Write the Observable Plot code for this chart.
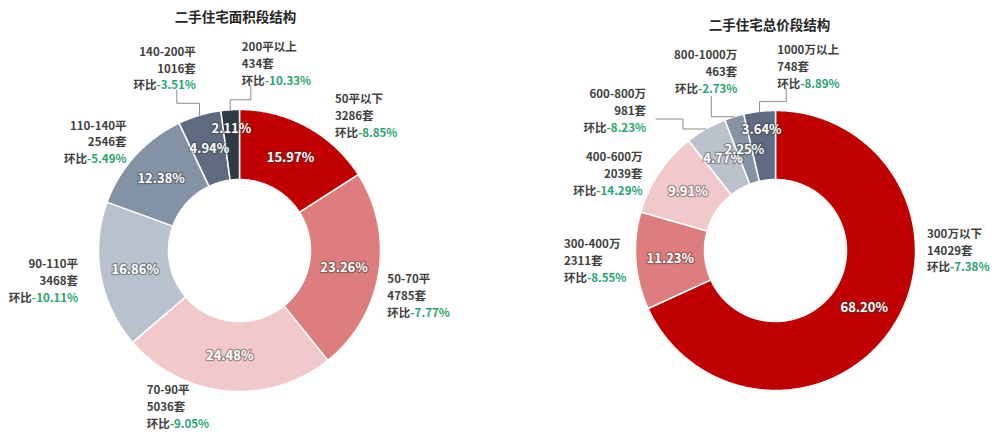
<!DOCTYPE html>
<html>
<head>
<meta charset="utf-8">
<script src="https://cdn.jsdelivr.net/npm/d3@7"></script>
<script src="https://cdn.jsdelivr.net/npm/@observablehq/plot@0.6"></script>
<style>
  html, body { margin: 0; padding: 0; background: #fff; }
  #chart svg { display: block; }
</style>
</head>
<body>
<div id="chart"></div>
<script>
// ---------------- DATA ----------------
const areaTitle = "二手住宅面积段结构";
const areaCategories = ["50平以下", "50-70平", "70-90平", "90-110平", "110-140平", "140-200平", "200平以上"];
const areaCounts = [3286, 4785, 5036, 3468, 2546, 1016, 434];
const areaShares = [15.97, 23.26, 24.48, 16.86, 12.38, 4.94, 2.11];
const areaChanges = [-8.85, -7.77, -9.05, -10.11, -5.49, -3.51, -10.33];

const priceTitle = "二手住宅总价段结构";
const priceCategories = ["300万以下", "300-400万", "400-600万", "600-800万", "800-1000万", "1000万以上"];
const priceCounts = [14029, 2311, 2039, 981, 463, 748];
const priceShares = [68.20, 11.23, 9.91, 4.77, 2.25, 3.64];
const priceChanges = [-7.38, -8.55, -14.29, -8.23, -2.73, -8.89];

// ---------------- STYLE / LAYOUT ----------------
const W = 1000, H = 441;
const areaPalette = ["#C00000", "#DE7D7D", "#F2C9CA", "#B9C1CC", "#8492A6", "#5E6B80", "#2F3B48"];
const pricePalette = ["#C00000", "#DE7D7D", "#F2C9CA", "#BAC1CB", "#8693A5", "#5E6B80"];
const textColor = "#404040";
const greenColor = "#27A46E";
const leaderColor = "#8C8C8C";
const FONT = "'Noto Sans CJK SC', 'Noto Sans', sans-serif";

// label nudges relative to the slice's mid-angle anchor (style only)
const areaLabelLayout = [
  {anchor: "start", dx: 18, dy: 5},
  {anchor: "start", dx: -11, dy: 18},
  {anchor: "start", dx: -78, dy: -5},
  {anchor: "end", dx: -3, dy: 0},
  {anchor: "end", dx: 6, dy: -1},
  {anchor: "end", dx: 2, dy: -29, leader: "upLeft"},
  {anchor: "start", dx: 13, dy: -27, leader: "upRight"}
];
const priceLabelLayout = [
  {anchor: "start", dx: 17, dy: -88},
  {anchor: "start", dx: -52, dy: -3},
  {anchor: "end", dx: 0, dy: 11},
  {anchor: "end", dx: -50, dy: -2, leader: "leftStep"},
  {anchor: "end", dx: 9, dy: -27, leader: "leftUp"},
  {anchor: "start", dx: 20, dy: -26, leader: "upRight"}
];

const charts = [
  {title: areaTitle, titleDx: -4, titleY: 17, cx: 239, cy: 250, R: 141, r: 71,
   categories: areaCategories, counts: areaCounts, shares: areaShares, changes: areaChanges,
   palette: areaPalette, layout: areaLabelLayout},
  {title: priceTitle, titleDx: -6, titleY: 25, cx: 775, cy: 250, R: 140, r: 71,
   categories: priceCategories, counts: priceCounts, shares: priceShares, changes: priceChanges,
   palette: pricePalette, layout: priceLabelLayout}
];

// ---------------- GEOMETRY ----------------
function polar(c, rad, a) {
  return {x: c.cx + rad * Math.sin(a), y: c.cy - rad * Math.cos(a)};
}

function buildSlices(c) {
  const total = d3.sum(c.shares);
  let acc = 0;
  return c.categories.map((cat, i) => {
    const a0 = acc / total * 2 * Math.PI;
    acc += c.shares[i];
    const a1 = acc / total * 2 * Math.PI;
    return {cat, i, a0, a1, mid: (a0 + a1) / 2, share: c.shares[i], count: c.counts[i], change: c.changes[i],
            last: i === c.categories.length - 1};
  });
}

function ringPoints(c, s) {
  const step = Math.PI / 360;
  const n = Math.max(2, Math.ceil((s.a1 - s.a0) / step));
  const pts = [];
  for (let k = 0; k <= n; k++) pts.push(polar(c, c.R, s.a0 + (s.a1 - s.a0) * k / n));
  for (let k = n; k >= 0; k--) pts.push(polar(c, c.r, s.a0 + (s.a1 - s.a0) * k / n));
  return pts;
}

function leaderPoints(c, s, lay, lx, ly) {
  const p = polar(c, c.R, s.mid);
  switch (lay.leader) {
    case "upLeft":
      return [p, {x: p.x, y: p.y - 12}, {x: lx - 19, y: p.y - 12}, {x: lx - 19, y: ly + 23}];
    case "upRight":
      return [p, {x: p.x, y: p.y - 10}, {x: lx + 9, y: p.y - 10}, {x: lx + 9, y: ly + 23}];
    case "leftStep":
      return [p, {x: p.x - 23, y: p.y}, {x: p.x - 23, y: p.y - 10}, {x: lx + 10, y: p.y - 10}];
    case "leftUp":
      return [p, {x: lx - 26, y: p.y}, {x: lx - 26, y: ly + 26}];
  }
  return null;
}

// ---------------- MARKS ----------------
const marks = [];
for (const c of charts) {
  const sl = buildSlices(c);
  // slices
  for (const s of sl) {
    marks.push(Plot.line(ringPoints(c, s), {
      x: "x", y: "y", curve: "linear-closed",
      fill: c.palette[s.i], stroke: "#ffffff", strokeWidth: 1.5
    }));
  }
  // percentage labels inside (the last, small slice is pushed outward to avoid its neighbour)
  const labR = s => (s.last && s.share < 4 ? c.R - 19 : (c.R + c.r) / 2);
  marks.push(Plot.text(sl, {
    x: s => polar(c, labR(s), s.mid).x,
    y: s => polar(c, labR(s), s.mid).y,
    text: s => s.share.toFixed(2) + "%",
    fill: "#ffffff", stroke: "#3a3a3a", strokeOpacity: 0.45, strokeWidth: 2.5,
    fontSize: 13, fontWeight: "bold"
  }));
  // outer labels and leaders
  for (const s of sl) {
    const lay = c.layout[s.i];
    const base = polar(c, c.R + 20, s.mid);
    const lx = base.x + lay.dx, ly = base.y + lay.dy;
    if (lay.leader) {
      marks.push(Plot.line(leaderPoints(c, s, lay, lx, ly), {
        x: "x", y: "y", stroke: leaderColor, strokeWidth: 1
      }));
    }
    marks.push(Plot.text([s], {
      x: d => polar(c, c.R + 20, d.mid).x,
      y: d => polar(c, c.R + 20, d.mid).y,
      dx: lay.dx, dy: lay.dy,
      text: d => `${d.cat}\n${d.count}套\n环比${d.change.toFixed(2)}%`,
      textAnchor: lay.anchor, lineAnchor: "middle", lineHeight: 1.47,
      fill: textColor, fontSize: 11.5, fontWeight: "bold"
    }));
  }
  // title
  marks.push(Plot.text([c.title], {
    x: c.cx, y: c.titleY, dx: c.titleDx, text: d => d,
    fontSize: 13.5, fontWeight: "bold", fill: "#262626"
  }));
}

const svg = Plot.plot({
  width: W, height: H, margin: 0,
  style: {fontFamily: FONT, background: "#ffffff"},
  x: {domain: [0, W], range: [0, W], axis: null},
  y: {domain: [0, H], range: [0, H], axis: null},
  marks
});

// colour the change values green
d3.select(svg).selectAll("tspan").each(function () {
  const t = this.textContent;
  if (t.startsWith("环比") && this.childElementCount === 0) {
    this.textContent = "环比";
    d3.select(this).append("tspan").attr("fill", greenColor).text(t.slice(2));
  }
});

document.getElementById("chart").appendChild(svg);
</script>
</body>
</html>
